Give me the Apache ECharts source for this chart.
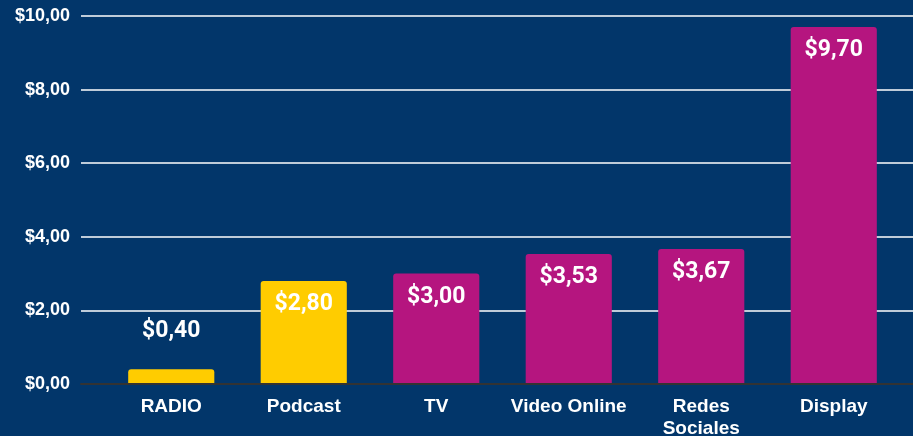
<!DOCTYPE html>
<html>
<head>
<meta charset="utf-8">
<script src="https://cdn.jsdelivr.net/npm/echarts@6/dist/echarts.min.js"></script>
<style>
  html, body { margin: 0; padding: 0; background: #02366a; }
  #chart { width: 913px; height: 436px; }
</style>
</head>
<body>
<div id="chart"></div>
<script>
const categories = ["RADIO", "Podcast", "TV", "Video Online", "Redes Sociales", "Display"];
const values = [0.40, 2.80, 3.00, 3.53, 3.67, 9.70];
const barColors = ["#ffcc00", "#ffcc00", "#b5157f", "#b5157f", "#b5157f", "#b5157f"];
const yTicks = [0, 2, 4, 6, 8, 10];

const money = (v) => "$" + v.toFixed(2).replace(".", ",");

const chart = echarts.init(document.getElementById("chart"), null, { renderer: "canvas" });

const option = {
  backgroundColor: "#02366a",
  animation: false,
  grid: [
    // full width grid for gridlines, y labels and axis line
    { left: 81, right: 0, top: 16, bottom: 52, containLabel: false, outerBoundsMode: "none" },
    // narrower grid for the bars
    { left: 105, right: 13, top: 16, bottom: 52, containLabel: false, outerBoundsMode: "none" },
  ],
  xAxis: [
    {
      gridIndex: 0,
      type: "category",
      data: [""],
      axisLine: { show: true, lineStyle: { color: "#333333", width: 2 } },
      axisTick: { show: false },
      axisLabel: { show: false },
      z: 5,
    },
    {
      gridIndex: 1,
      type: "category",
      data: categories,
      axisLine: { show: false },
      axisTick: { show: false },
      axisLabel: {
        color: "#ffffff",
        fontFamily: "Liberation Sans",
        fontWeight: "bold",
        fontSize: 19,
        lineHeight: 22,
        margin: 12,
        interval: 0,
        formatter: (v) => v === "Redes Sociales" ? "Redes\nSociales" : v,
      },
    },
  ],
  yAxis: [
    {
      gridIndex: 0,
      type: "value",
      min: 0,
      max: 10,
      interval: 2,
      axisLine: { show: false },
      axisTick: { show: false },
      splitLine: { show: true, lineStyle: { color: "#ffffff", width: 1.5 } },
      axisLabel: {
        color: "#ffffff",
        fontFamily: "Liberation Sans",
        fontWeight: "bold",
        fontSize: 18,
        margin: 11,
        formatter: (v) => yTicks.includes(v) ? money(v) : "",
      },
    },
    {
      gridIndex: 1,
      type: "value",
      min: 0,
      max: 10,
      interval: 2,
      show: false,
    },
  ],
  series: [
    {
      type: "bar",
      xAxisIndex: 1,
      yAxisIndex: 1,
      barWidth: "65%",
      data: values.map((v, i) => ({
        value: v,
        itemStyle: { color: barColors[i], borderRadius: [3, 3, 0, 0] },
        label: i === 0
          ? { position: "top", distance: 27 }
          : { position: "insideTop", distance: 12 },
      })),
      label: {
        show: true,
        color: "#ffffff",
        fontFamily: "Roboto",
        fontWeight: "bold",
        fontSize: 23,
        formatter: (p) => money(p.value),
      },
      z: 3,
    },
  ],
};
chart.setOption(option);
</script>
</body>
</html>
